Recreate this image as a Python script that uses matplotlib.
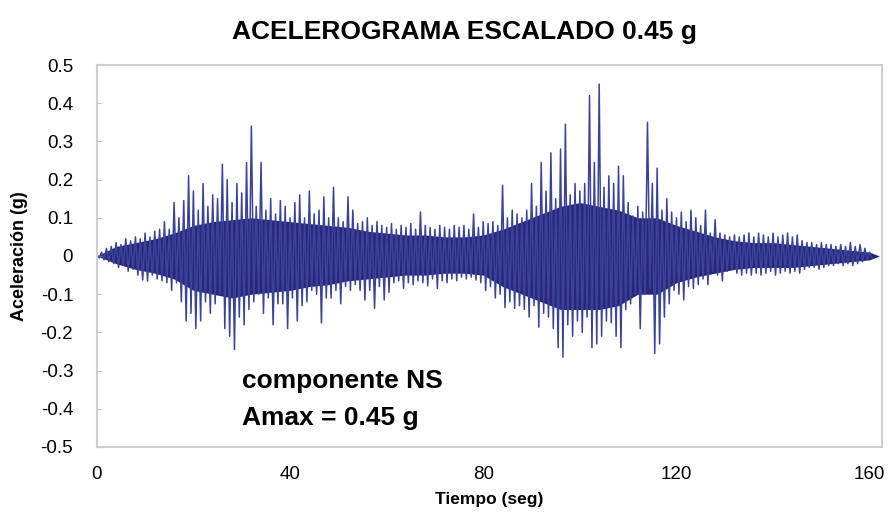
import numpy as np
import matplotlib.pyplot as plt

# picos positivos y negativos del registro, uno de cada signo por segundo (g)
pico_sup = [
    0.005, 0.01, 0.02, 0.025, 0.035, 0.03, 0.045, 0.04, 0.05, 0.045,
    0.06, 0.05, 0.065, 0.07, 0.09, 0.07, 0.14, 0.10, 0.145, 0.21,
    0.17, 0.12, 0.19, 0.13, 0.16, 0.15, 0.24, 0.20, 0.14, 0.19,
    0.165, 0.245, 0.34, 0.13, 0.245, 0.12, 0.15, 0.11, 0.145, 0.13,
    0.10, 0.14, 0.16, 0.10, 0.17, 0.11, 0.12, 0.155, 0.10, 0.18,
    0.10, 0.09, 0.155, 0.12, 0.085, 0.09, 0.10, 0.08, 0.09, 0.08,
    0.075, 0.085, 0.07, 0.08, 0.075, 0.085, 0.07, 0.115, 0.08,
    0.075, 0.07, 0.08, 0.075, 0.07, 0.08, 0.075, 0.08, 0.07, 0.11,
    0.075, 0.09, 0.085, 0.09, 0.08, 0.185, 0.10, 0.12, 0.11, 0.10,
    0.12, 0.19, 0.13, 0.245, 0.17, 0.27, 0.15, 0.28, 0.345, 0.16,
    0.19, 0.17, 0.19, 0.42, 0.245, 0.45, 0.18, 0.21, 0.19, 0.235,
    0.21, 0.14, 0.105, 0.13, 0.115, 0.35, 0.19, 0.23, 0.12, 0.15,
    0.115, 0.10, 0.115, 0.09, 0.12, 0.10, 0.08, 0.12, 0.06,
    0.095, 0.06, 0.055, 0.05, 0.055, 0.05, 0.055, 0.06, 0.05, 0.06,
    0.055, 0.05, 0.06, 0.05, 0.055, 0.06, 0.05, 0.055, 0.04, 0.035,
    0.035, 0.03, 0.035, 0.03, 0.03, 0.025, 0.03, 0.025, 0.035, 0.025,
    0.03, 0.02, 0.01,
]
pico_inf = [
    -0.005, -0.01, -0.015, -0.02, -0.03, -0.025, -0.04, -0.035, -0.05, -0.063,
    -0.066, -0.05, -0.06, -0.065, -0.07, -0.09, -0.07, -0.12, -0.17, -0.15,
    -0.19, -0.17, -0.12, -0.15, -0.125, -0.10, -0.19, -0.21, -0.245, -0.16,
    -0.18, -0.14, -0.12, -0.10, -0.15, -0.11, -0.18, -0.125, -0.125, -0.19,
    -0.11, -0.17, -0.13, -0.12, -0.09, -0.10, -0.175, -0.11, -0.11, -0.09,
    -0.125, -0.08, -0.09, -0.075, -0.09, -0.115, -0.09, -0.137, -0.08, -0.115,
    -0.095, -0.07, -0.065, -0.085, -0.07, -0.075, -0.065, -0.07, -0.078,
    -0.06, -0.085, -0.065, -0.07, -0.06, -0.065, -0.055, -0.06, -0.055, -0.063,
    -0.07, -0.09, -0.08, -0.11, -0.10, -0.135, -0.12, -0.137, -0.13, -0.14,
    -0.16, -0.13, -0.186, -0.15, -0.16, -0.19, -0.24, -0.265, -0.18, -0.21,
    -0.17, -0.20, -0.16, -0.24, -0.23, -0.21, -0.17, -0.175, -0.21, -0.24,
    -0.14, -0.125, -0.10, -0.19, -0.10, -0.085, -0.255, -0.23, -0.16, -0.125,
    -0.09, -0.10, -0.115, -0.08, -0.085, -0.075, -0.06, -0.075, -0.04,
    -0.05, -0.065, -0.04, -0.035, -0.045, -0.05, -0.045, -0.05, -0.045, -0.05,
    -0.045, -0.04, -0.05, -0.045, -0.04, -0.045, -0.04, -0.045, -0.035, -0.03,
    -0.03, -0.035, -0.03, -0.025, -0.025, -0.02, -0.025, -0.02, -0.025, -0.02,
    -0.015, -0.01, -0.005,
]

# banda densa de la señal (núcleo), cada 4 s
t_nucleo = [0, 4, 8, 12, 16, 20, 24, 28, 32, 36, 40, 44, 48, 52, 56, 60, 64, 68, 72, 76,
            80, 84, 88, 92, 96, 100, 104, 108, 112, 116, 120, 124, 128, 132, 136, 140,
            144, 148, 152, 156, 160, 162]
nucleo_sup = [0.0, 0.025, 0.035, 0.045, 0.06, 0.08, 0.09, 0.095, 0.10, 0.095, 0.09,
              0.085, 0.08, 0.075, 0.065, 0.06, 0.055, 0.055, 0.05, 0.05, 0.055, 0.07,
              0.09, 0.11, 0.13, 0.14, 0.13, 0.12, 0.10, 0.10, 0.08, 0.065, 0.05, 0.04,
              0.035, 0.035, 0.03, 0.025, 0.02, 0.015, 0.01, 0.0]
nucleo_inf = [0.0, -0.02, -0.035, -0.045, -0.06, -0.09, -0.10, -0.11, -0.10, -0.095,
              -0.09, -0.08, -0.075, -0.065, -0.06, -0.055, -0.05, -0.05, -0.045, -0.045,
              -0.05, -0.08, -0.10, -0.12, -0.14, -0.14, -0.14, -0.13, -0.10, -0.10,
              -0.07, -0.055, -0.045, -0.035, -0.03, -0.03, -0.03, -0.025, -0.02, -0.015,
              -0.01, 0.0]

x_ticks = [0, 40, 80, 120, 160]
y_ticks = [-0.5, -0.4, -0.3, -0.2, -0.1, 0, 0.1, 0.2, 0.3, 0.4, 0.5]
y_labels = ['-0.5', '-0.4', '-0.3', '-0.2', '-0.1', '0', '0.1', '0.2', '0.3', '0.4', '0.5']

# intercalar picos: positivo en t, negativo en t + 0.5
n = min(len(pico_sup), len(pico_inf))
t = np.empty(2 * n)
acc = np.empty(2 * n)
t[0::2] = np.arange(n)
t[1::2] = np.arange(n) + 0.5
acc[0::2] = pico_sup[:n]
acc[1::2] = pico_inf[:n]

plt.rcParams['font.family'] = ['Liberation Sans', 'DejaVu Sans']

fig = plt.figure(figsize=(8.88, 5.12), dpi=100)
ax = fig.add_axes([0.109, 0.127, 0.884, 0.746])

ax.fill_between(t_nucleo, nucleo_inf, nucleo_sup, color='#28277a', lw=0)
ax.plot(t, acc, color='#3a4399', lw=1.1)

ax.set_xlim(0, 162.5)
ax.set_ylim(-0.5, 0.5)
ax.set_xticks(x_ticks)
ax.set_xticklabels([str(v) for v in x_ticks])
ax.set_yticks(y_ticks)
ax.set_yticklabels(y_labels)
ax.tick_params(axis='y', direction='in', length=3, color='#c0c0c0', labelsize=13.5, pad=17)
ax.tick_params(axis='x', length=0, labelsize=13.5, pad=14)
for s in ax.spines.values():
    s.set_color('#cfcfcf')
    s.set_linewidth(1.5)

fig.text(0.5225, 0.9375, 'ACELEROGRAMA ESCALADO 0.45 g', fontsize=19, fontweight='bold',
         ha='center', va='center')
ax.set_xlabel('Tiempo (seg)', fontsize=12.5, fontweight='bold', labelpad=6)
ax.set_ylabel('Aceleración (g)', fontsize=13, fontweight='bold', labelpad=9)

ax.text(30, -0.346, 'componente NS', fontsize=19, fontweight='bold', va='baseline')
ax.text(30, -0.4425, 'Amax = 0.45 g', fontsize=19, fontweight='bold', va='baseline')

fig.savefig('out.png', dpi=100)
